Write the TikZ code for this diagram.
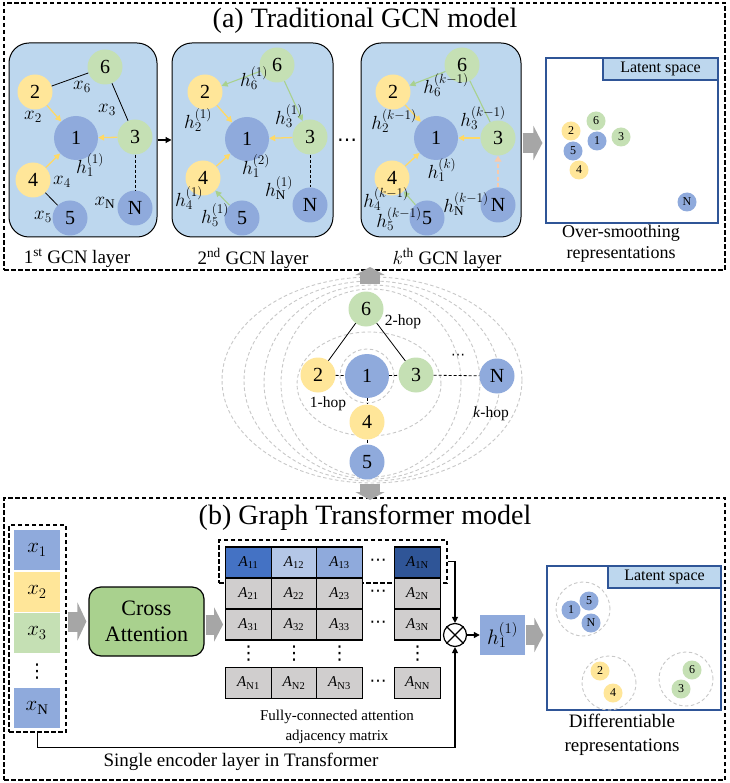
\RequirePackage{fix-cm}
\documentclass[tikz,border=0pt]{standalone}
\usepackage{fontspec}
\setmainfont{Liberation Serif}
\newfontfamily\dejavu{DejaVu Sans}
\usetikzlibrary{arrows.meta}
\newcommand\fsz[2]{\fontsize{#1}{#2}\selectfont}
\newcommand\hdts{{\dejavu ⋯}}
\newcommand\vdts{{\dejavu ⋮}}
\definecolor{nblue}{HTML}{8FAADC}
\definecolor{nyel}{HTML}{FFE699}
\definecolor{ngrn}{HTML}{C5E0B4}
\definecolor{boxbg}{HTML}{BDD7EE}
\definecolor{ayel}{HTML}{FFD966}
\definecolor{agrn}{HTML}{A9D18E}
\definecolor{dblue}{HTML}{2F5597}
\definecolor{mblue}{HTML}{4472C4}
\definecolor{lblue}{HTML}{B4C7E7}
\definecolor{cgray}{HTML}{D0CECE}
\definecolor{fgray}{HTML}{A6A6A6}
\definecolor{rgray}{HTML}{C8C8C8}
\definecolor{cagrn}{HTML}{A9D18E}
\definecolor{pnk}{HTML}{F8CBAD}
\tikzset{
  nd/.style={circle, inner sep=0pt, minimum size=35pt, font=\fsz{20}{24}},
  big/.style={minimum size=44pt},
  sm/.style={circle, inner sep=0pt, minimum size=19pt, font=\fsz{12}{14}},
  bl/.style={fill=nblue}, ye/.style={fill=nyel}, gr/.style={fill=ngrn},
  lab/.style={inner sep=0pt, font=\fsz{19}{22}},
  txt/.style={inner sep=0pt, align=center},
  blk/.style={draw=black, line width=0.8pt},
  dsh/.style={draw=black, line width=0.8pt, dash pattern=on 3pt off 2pt},
  yarr/.style={draw=ayel, line width=1.3pt, -{Triangle[length=6pt,width=6pt]}},
  garr/.style={draw=agrn, line width=1.1pt, -{Triangle[length=6pt,width=6pt]}},
  parr/.style={draw=pnk, line width=1.3pt, dash pattern=on 4pt off 2.5pt, -{Triangle[length=6pt,width=7pt]}},
  fat/.style={draw=fgray, line width=20pt, -{Triangle[length=9pt,width=34pt]}},
  fatv/.style={draw=fgray, line width=20pt, -{Triangle[length=8pt,width=29pt]}},
  outerbox/.style={draw=black, line width=1.3pt, dash pattern=on 4.5pt off 2.5pt, inner sep=0pt},
  layerbox/.style={draw=black, line width=1pt, fill=boxbg, rounded corners=20pt, minimum height=194pt, inner sep=0pt},
  latbox/.style={draw=dblue, line width=1.2pt, fill=white, inner sep=0pt},
  latlab/.style={draw=dblue, line width=1.2pt, fill=boxbg, inner sep=0pt, minimum height=22pt, font=\fsz{16}{19}},
  hring/.style={draw=rgray, line width=0.9pt, dash pattern=on 3.5pt off 2.5pt},
  cell/.style={draw=black, line width=1.3pt, fill=cgray, minimum width=45.5pt, minimum height=31pt, inner sep=0pt, font=\fsz{15}{18}},
  xcell/.style={minimum width=46pt, minimum height=40pt, inner sep=0pt, font=\fsz{21}{24}},
  conn/.style={draw=black, line width=1.2pt},
}
\begin{document}
\begin{tikzpicture}[x=1pt,y=-1pt]
\useasboundingbox (0,0) rectangle (729,783);
\fill[white] (0,0) rectangle (729,783);

% ===== (a) =====
\node[outerbox, minimum width=721pt, minimum height=267pt] (boxA) at (364.5,136.5) {};
\node[txt, font=\fsz{28}{32}] (titleA) at (365,21) {(a) Traditional GCN model};

\node[layerbox, minimum width=148pt] (L1) at (83,140) {};
\node[layerbox, minimum width=161pt] (L2) at (252.5,140) {};
\node[layerbox, minimum width=160pt] (L3) at (441,140) {};

% layer 1
\node[nd,gr] (a6) at (105,67) {6};
\node[nd,ye] (a2) at (35,92) {2};
\node[nd,bl,big] (a1) at (76,138) {1};
\node[nd,gr] (a3) at (135,137) {3};
\node[nd,ye] (a4) at (33,180) {4};
\node[nd,bl] (a5) at (70,218) {5};
\node[nd,bl] (aN) at (135,208) {N};
\draw[blk] (a2) -- (a6);
\draw[blk] (a6) -- (a3);
\draw[dsh] (a3) -- (aN);
\draw[blk] (a4) -- (a5);
\draw[yarr] (a2) -- (a1);
\draw[yarr] (a4) -- (a1);
\draw[yarr] (a3) -- (a1);
\node[lab] (ax6) at (82,87) {$x_6$};
\node[lab] (ax2) at (33,117) {$x_2$};
\node[lab] (ax3) at (107,110) {$x_3$};
\node[lab] (ah1) at (90,165) {$h_1^{(1)}$};
\node[lab] (ax4) at (62,182) {$x_4$};
\node[lab] (ax5) at (43,217) {$x_5$};
\node[lab] (axN) at (105,203) {$x_{\mathrm{N}}$};

% layer 2
\node[nd,gr] (b6) at (277,65) {6};
\node[nd,ye] (b2) at (205,92) {2};
\node[nd,bl,big] (b1) at (247,139) {1};
\node[nd,gr] (b3) at (310,137) {3};
\node[nd,ye] (b4) at (203,178) {4};
\node[nd,bl] (b5) at (242,218) {5};
\node[nd,bl] (bN) at (310,205) {N};
\draw[garr] (b6) -- (b2);
\draw[garr] (b6) -- (b3);
\draw[garr] (b5) -- (b4);
\draw[yarr] (b2) -- (b1);
\draw[yarr] (b3) -- (b1);
\draw[yarr] (b4) -- (b1);
\draw[dsh] (b3) -- (bN);
\node[lab] (bh6) at (254,78) {$h_6^{(1)}$};
\node[lab] (bh2) at (198,120) {$h_2^{(1)}$};
\node[lab] (bh3) at (289,116) {$h_3^{(1)}$};
\node[lab] (bh1) at (256,166) {$h_1^{(2)}$};
\node[lab] (bh4) at (189,198) {$h_4^{(1)}$};
\node[lab] (bhN) at (279,188) {$h_{\mathrm{N}}^{(1)}$};
\node[lab] (bh5) at (215,215) {$h_5^{(1)}$};

% layer k
\node[nd,gr] (c6) at (462,65) {6};
\node[nd,ye] (c2) at (393,92) {2};
\node[nd,bl,big] (c1) at (436,138) {1};
\node[nd,gr] (c3) at (498,138) {3};
\node[nd,ye] (c4) at (392,178) {4};
\node[nd,bl] (c5) at (427,218) {5};
\node[nd,bl] (cN) at (498,205) {N};
\draw[garr] (c6) -- (c2);
\draw[draw=agrn, line width=1.1pt] (c6) -- (c3);
\draw[garr] (c5) -- (c4);
\draw[yarr] (c2) -- (c1);
\draw[yarr] (c3) -- (c1);
\draw[yarr] (c4) -- (c1);
\draw[parr] (cN) -- (c3);
\node[lab] (ch6) at (446,85) {$h_6^{(k-1)}$};
\node[lab] (ch2) at (394,121) {$h_2^{(k-1)}$};
\node[lab] (ch3) at (483,118) {$h_3^{(k-1)}$};
\node[lab] (ch1) at (442,170) {$h_1^{(k)}$};
\node[lab] (ch4) at (386,199) {$h_4^{(k-1)}$};
\node[lab] (ch5) at (399,219) {$h_5^{(k-1)}$};
\node[lab] (chN) at (466,204) {$h_{\mathrm{N}}^{(k-1)}$};

\draw[conn, -{Triangle[length=6pt,width=6pt]}] (L1.east) -- (L2.west);
\node[txt, font=\fsz{20}{22}] (dotsA) at (347,143) {\hdts};

\node[txt, font=\fsz{19}{22}] (capL1) at (77,258) {1\textsuperscript{st} GCN layer};
\node[txt, font=\fsz{19}{22}] (capL2) at (253,258) {2\textsuperscript{nd} GCN layer};
\node[txt, font=\fsz{19}{22}] (capL3) at (447,258) {$k^{\mathrm{th}}$ GCN layer};

% latent top
\node[latbox, minimum width=172pt, minimum height=165pt] (latA) at (632,140.5) {};
\node[latlab, minimum width=115pt] (latAl) at (660.5,69) {Latent space};
\node[sm,gr] (l6) at (596,121) {6};
\node[sm,ye] (l2) at (571,131) {2};
\node[sm,bl] (l1) at (597,141) {1};
\node[sm,gr] (l3) at (621,137) {3};
\node[sm,bl] (l5) at (573,151) {5};
\node[sm,ye] (l4) at (579,170) {4};
\node[sm,bl] (lN) at (687,202) {N};
\node[txt, font=\fsz{18}{21}] (capLA) at (621,244) {Over-smoothing\\representations};
\draw[fat, shorten <=1pt, shorten >=3pt] (L3.east |- 0,143) -- (latA.west |- 0,143);

% ===== hop diagram =====
\draw[hring] (372,380) ellipse [x radius=150pt, y radius=103pt];
\draw[hring] (372,381) ellipse [x radius=128pt, y radius=100pt];
\draw[hring] (372,382) ellipse [x radius=108pt, y radius=97pt];
\draw[hring] (371,383) ellipse [x radius=90pt, y radius=94pt];
\draw[hring] (369,384) ellipse [x radius=72pt, y radius=52pt];
\draw[hring] (367,376) circle [radius=27pt];
\node[nd,gr] (m6) at (366,309) {6};
\node[nd,ye] (m2) at (318,375) {2};
\node[nd,bl,big] (m1) at (367,376) {1};
\node[nd,gr] (m3) at (416,375) {3};
\node[nd,bl] (mN) at (497,376) {N};
\node[nd,ye] (m4) at (367,422) {4};
\node[nd,bl] (m5) at (367,462) {5};
\draw[blk] (m6) -- (m2);
\draw[blk] (m6) -- (m3);
\draw[dsh] (m2) -- (m1);
\draw[dsh] (m1) -- (m3);
\draw[dsh] (m3) -- (mN);
\draw[dsh] (m1) -- (m4);
\draw[dsh] (m4) -- (m5);
\node[txt, font=\fsz{15.5}{18}] (hop2) at (403,322) {2-hop};
\node[txt, font=\fsz{15.5}{18}] (hop1) at (328,404) {1-hop};
\node[txt, font=\fsz{15.5}{18}] (hopk) at (491,414) {\textit{k}-hop};
\node[txt, font=\fsz{14}{16}] (hopd) at (458,357) {\hdts};
\coordinate (upS) at (370,284);
\coordinate (upE) at (370,267);
\draw[fatv] (upS) -- (upE);
\coordinate (dnS) at (370,484);
\coordinate (dnE) at (370,500);

% ===== (b) =====
\node[outerbox, minimum width=721pt, minimum height=282pt] (boxB) at (364.5,639) {};
\draw[fatv] (dnS) -- (dnE);
\node[txt, font=\fsz{28}{32}] (titleB) at (365,518) {(b) Graph Transformer model};

\node[outerbox, line width=1.1pt, minimum width=57pt, minimum height=207pt] (xbox) at (37.5,628.5) {};
\node[xcell, fill=nblue] (x1) at (37,550) {$x_1$};
\node[xcell, fill=nyel] (x2) at (37,592) {$x_2$};
\node[xcell, fill=ngrn] (x3) at (37,633) {$x_3$};
\node[txt, font=\fsz{19}{21}] (xd) at (37,672) {\vdts};
\node[xcell, fill=nblue] (xN) at (37,708) {$x_{\mathrm{N}}$};

\node[draw=black, line width=1.2pt, fill=cagrn, rounded corners=12pt, minimum width=115pt, minimum height=69pt, inner sep=0pt, align=center, font=\fsz{22}{26}] (CA) at (146.5,621.5) {Cross\\Attention};

% matrix
\node[outerbox, line width=1.1pt, minimum width=228pt, minimum height=43pt] (rowbox) at (333,561.5) {};
\node[cell, fill=mblue] (m11) at (248.5,562.5) {\textit{A}\textsubscript{11}};
\node[cell, fill=lblue] (m12) at (294,562.5) {\textit{A}\textsubscript{12}};
\node[cell, fill=nblue] (m13) at (339.5,562.5) {\textit{A}\textsubscript{13}};
\node[cell, fill=dblue] (m1N) at (417.5,562.5) {\textit{A}\textsubscript{1N}};
\node[cell] (m21) at (248.5,593.5) {\textit{A}\textsubscript{21}};
\node[cell] (m22) at (294,593.5) {\textit{A}\textsubscript{22}};
\node[cell] (m23) at (339.5,593.5) {\textit{A}\textsubscript{23}};
\node[cell] (m2N) at (417.5,593.5) {\textit{A}\textsubscript{2N}};
\node[cell] (m31) at (248.5,624.5) {\textit{A}\textsubscript{31}};
\node[cell] (m32) at (294,624.5) {\textit{A}\textsubscript{32}};
\node[cell] (m33) at (339.5,624.5) {\textit{A}\textsubscript{33}};
\node[cell] (m3N) at (417.5,624.5) {\textit{A}\textsubscript{3N}};
\node[cell] (mN1) at (248.5,683) {\textit{A}\textsubscript{N1}};
\node[cell] (mN2) at (294,683) {\textit{A}\textsubscript{N2}};
\node[cell] (mN3) at (339.5,683) {\textit{A}\textsubscript{N3}};
\node[cell] (mNN) at (417.5,683) {\textit{A}\textsubscript{NN}};
\foreach \yy/\nm in {562.5/r1,593.5/r2,624.5/r3,683/rN}
  \node[txt, font=\fsz{17}{19}] (hd\nm) at (378,\yy) {\hdts};
\foreach \xx/\nm in {248.5/c1,294/c2,339.5/c3,417.5/cN}
  \node[txt, font=\fsz{19}{21}] (vd\nm) at (\xx,654) {\vdts};
\node[txt, font=\fsz{15}{20}] (capM) at (337,727) {Fully-connected attention\\adjacency matrix};

\draw[fat, -{Triangle[length=9pt,width=38pt]}, shorten <=1pt, shorten >=2pt] (xbox.east |- CA) -- (CA.west);
\draw[fat, -{Triangle[length=9pt,width=34pt]}, shorten <=1pt, shorten >=2pt] (CA.east |- m31) -- (m31.west);

% otimes
\node[circle, draw=black, line width=1.2pt, fill=white, minimum size=23pt, inner sep=0pt] (ot) at (455,635) {};
\draw[conn] (ot.north east) -- (ot.south west);
\draw[conn] (ot.north west) -- (ot.south east);
\draw[conn, -{Triangle[length=6pt,width=6pt]}] (rowbox.east) -| (ot.north);
\draw[conn, -{Triangle[length=6pt,width=6pt]}] (xbox.south) -- ++(0,15) -| (ot.south);
\node[fill=nblue, minimum width=45pt, minimum height=40pt, inner sep=0pt, font=\fsz{21}{24}] (hb) at (502.5,635) {$h_1^{(1)}$};
\draw[conn, -{Triangle[length=6pt,width=6pt]}] (ot) -- (hb);
\node[txt, font=\fsz{19}{22}] (capS) at (241,762) {Single encoder layer in Transformer};

% latent bottom
\node[latbox, minimum width=174pt, minimum height=144pt] (latB) at (634,638) {};
\node[latlab, minimum width=113pt] (latBl) at (664.5,577) {Latent space};
\draw[hring] (583,609) circle [radius=27pt];
\draw[hring] (609,683) circle [radius=27pt];
\draw[hring] (686,679) circle [radius=27pt];
\node[sm,bl] (q1) at (571,610) {1};
\node[sm,bl] (q5) at (589,601) {5};
\node[sm,bl] (qN) at (591,623) {N};
\node[sm,ye] (q2) at (600,671) {2};
\node[sm,ye] (q4) at (613,693) {4};
\node[sm,gr] (q6) at (692,670) {6};
\node[sm,gr] (q3) at (681,689) {3};
\draw[fat, shorten <=1pt, shorten >=3pt] (hb.east) -- (hb.east -| latB.west);
\node[txt, font=\fsz{19}{24}] (capLB) at (622,735) {Differentiable\\representations};
\end{tikzpicture}
\end{document}
